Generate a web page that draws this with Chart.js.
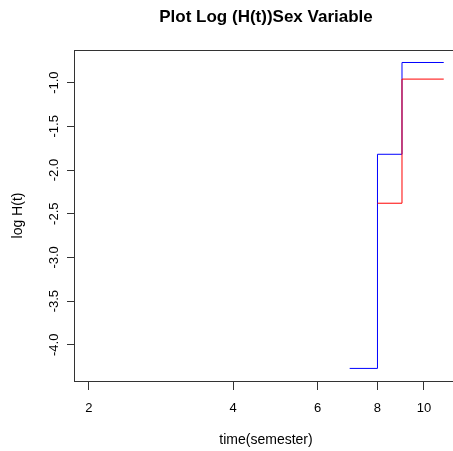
<!DOCTYPE html>
<html>
<head>
<meta charset="utf-8">
<script src="https://cdn.jsdelivr.net/npm/chart.js@4"></script>
<style>
    html, body { margin: 0; padding: 0; overflow: hidden; background: #fff; }
    canvas { display: block; }
</style>
</head>
<body>
<canvas id="graficoLogH" width="460" height="451"></canvas>
<script>
// valores
const blueTimes = [7, 8, 9, 11];
const blueLogH = [-4.27, -1.82, -0.77, -0.77];
const redTimes = [8, 9, 11];
const redLogH = [-2.38, -0.96, -0.96];
const xTicks = [2, 4, 6, 8, 10];
const yTicks = [-4.0, -3.5, -3.0, -2.5, -2.0, -1.5, -1.0];

const toPoints = (xs, ys) => xs.map((x, i) => ({ x: x, y: ys[i] }));

// caja y titulo al estilo R
const boxPlugin = {
    id: 'boxPlugin',
    afterDraw(chart) {
        const { ctx, chartArea: a } = chart;
        ctx.save();
        ctx.strokeStyle = '#333';
        ctx.lineWidth = 1;
        ctx.strokeRect(a.left + 0.5, a.top + 0.5, a.right - a.left, a.bottom - a.top);
        ctx.fillStyle = '#000';
        ctx.font = 'bold 17px "Liberation Sans", Arial, sans-serif';
        ctx.textAlign = 'center';
        ctx.textBaseline = 'middle';
        ctx.fillText('Plot Log (H(t))Sex Variable', (a.left + a.right) / 2, 17);
        ctx.restore();
    }
};

new Chart(document.getElementById('graficoLogH'), {
    type: 'line',
    data: {
        datasets: [
            {
                label: 'blue',
                data: toPoints(blueTimes, blueLogH),
                borderColor: '#0000FF',
                borderWidth: 1,
                pointRadius: 0,
                stepped: true,
                order: 1
            },
            {
                label: 'red',
                data: toPoints(redTimes, redLogH),
                borderColor: '#FF0000',
                borderWidth: 1,
                pointRadius: 0,
                stepped: true,
                order: 0
            }
        ]
    },
    options: {
        responsive: false,
        animation: false,
        layout: { padding: { top: 50, right: 2, left: 0, bottom: 0 } },
        plugins: { legend: { display: false }, tooltip: { enabled: false } },
        scales: {
            x: {
                type: 'logarithmic',
                min: 1.861,
                max: 11.78,
                afterBuildTicks: (s) => { s.ticks = xTicks.map(v => ({ value: v })); },
                afterFit: (s) => { s.height = 70; },
                border: { display: false },
                grid: { drawOnChartArea: false, drawTicks: true, tickLength: 9, color: '#333' },
                ticks: {
                    autoSkip: false, maxRotation: 0, padding: 11, color: '#000',
                    font: { family: '"Liberation Sans", Arial, sans-serif', size: 13 },
                    callback: (v) => String(v)
                },
                title: {
                    display: true, text: 'time(semester)', color: '#000', padding: { top: 0, bottom: 2 },
                    font: { family: '"Liberation Sans", Arial, sans-serif', size: 14 }
                }
            },
            y: {
                min: -4.414,
                max: -0.627,
                afterBuildTicks: (s) => { s.ticks = yTicks.map(v => ({ value: v })); },
                afterFit: (s) => { s.width = 74; },
                border: { display: false },
                grid: { drawOnChartArea: false, drawTicks: true, tickLength: 7, color: '#333' },
                ticks: {
                    autoSkip: false, minRotation: 90, maxRotation: 90, crossAlign: 'center', padding: 1,
                    color: '#000',
                    font: { family: '"Liberation Sans", Arial, sans-serif', size: 13 },
                    callback: (v) => Number(v).toFixed(1)
                },
                title: {
                    display: true, text: 'log H(t)', color: '#000', padding: { top: 10, bottom: 0 },
                    font: { family: '"Liberation Sans", Arial, sans-serif', size: 14 }
                }
            }
        }
    },
    plugins: [boxPlugin]
});
</script>
</body>
</html>
